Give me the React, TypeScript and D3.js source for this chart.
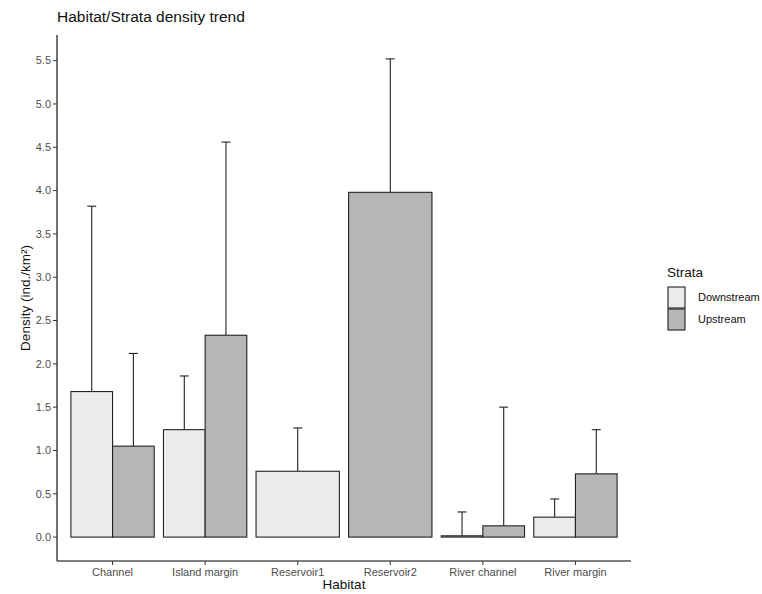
import React from 'react';
import * as d3 from 'd3';

const habitats = ['Channel', 'Island margin', 'Reservoir1', 'Reservoir2', 'River channel', 'River margin'];
const strata = ['Downstream', 'Upstream'];
// mean density and upper error bound per habitat (null = no data for that stratum)
const downstreamMean = [1.68, 1.24, 0.76, null, 0.015, 0.23];
const downstreamUpper = [3.82, 1.86, 1.26, null, 0.29, 0.44];
const upstreamMean = [1.05, 2.33, null, 3.98, 0.13, 0.73];
const upstreamUpper = [2.12, 4.56, null, 5.52, 1.5, 1.24];
const yTicks = [0, 0.5, 1, 1.5, 2, 2.5, 3, 3.5, 4, 4.5, 5, 5.5];

const fills: Record<string, string> = { Downstream: '#ececec', Upstream: '#b6b6b6' };
const font = '"Liberation Sans", Arial, sans-serif';

export default function App() {
  const width = 762;
  const height = 594;
  const panel = { left: 57, right: 631, top: 35, bottom: 561 };

  const rows = habitats.map((h, i) => {
    const items = [
      { s: 'Downstream', mean: downstreamMean[i], upper: downstreamUpper[i] },
      { s: 'Upstream', mean: upstreamMean[i], upper: upstreamUpper[i] },
    ].filter(d => d.mean !== null) as { s: string; mean: number; upper: number }[];
    return { h, items };
  });

  const x = d3.scaleBand<string>()
    .domain(habitats)
    .range([panel.left, panel.right])
    .paddingInner(0.1)
    .paddingOuter(0.15);

  const maxY = d3.max([...downstreamUpper, ...upstreamUpper].map(v => v ?? 0)) as number;
  const pad = maxY * 0.05;
  const y = d3.scaleLinear().domain([-pad, maxY + pad]).range([panel.bottom, panel.top]);

  const capW = 9;

  return (
    <svg width={width} height={height} style={{ position: 'absolute', left: 0, top: 0, background: '#fff' }}>
      <text x={57} y={22} fontFamily={font} fontSize={15.5} fill="#111">Habitat/Strata density trend</text>

      {rows.map(r => {
        const inner = d3.scaleBand<string>()
          .domain(r.items.map(d => d.s))
          .range([x(r.h)!, x(r.h)! + x.bandwidth()]);
        return (
          <g key={r.h}>
            {r.items.map(d => {
              const cx = inner(d.s)! + inner.bandwidth() / 2;
              return (
                <g key={d.s}>
                  <line x1={cx} x2={cx} y1={y(d.mean)} y2={y(d.upper)} stroke="#222" strokeWidth={1.1} />
                  <line x1={cx - capW / 2} x2={cx + capW / 2} y1={y(d.upper)} y2={y(d.upper)} stroke="#222" strokeWidth={1.1} />
                  <rect
                    x={inner(d.s)!}
                    y={y(d.mean)}
                    width={inner.bandwidth()}
                    height={y(0) - y(d.mean)}
                    fill={fills[d.s]}
                    stroke="#222"
                    strokeWidth={1.1}
                  />
                </g>
              );
            })}
          </g>
        );
      })}

      {/* axes */}
      <line x1={panel.left} x2={panel.left} y1={panel.top} y2={panel.bottom} stroke="#000" strokeWidth={1.1} />
      <line x1={panel.left} x2={panel.right} y1={panel.bottom} y2={panel.bottom} stroke="#000" strokeWidth={1.1} />
      {yTicks.map(t => (
        <g key={t}>
          <line x1={panel.left - 4} x2={panel.left} y1={y(t)} y2={y(t)} stroke="#333" />
          <text x={panel.left - 6} y={y(t)} dy="0.35em" textAnchor="end" fontFamily={font} fontSize={11} fill="#4d4d4d">
            {d3.format('.1f')(t)}
          </text>
        </g>
      ))}
      {habitats.map(h => {
        const cx = x(h)! + x.bandwidth() / 2;
        return (
          <g key={h}>
            <line x1={cx} x2={cx} y1={panel.bottom} y2={panel.bottom + 4} stroke="#333" />
            <text x={cx} y={panel.bottom + 15} textAnchor="middle" fontFamily={font} fontSize={11} fill="#4d4d4d">{h}</text>
          </g>
        );
      })}
      <text x={(panel.left + panel.right) / 2} y={589} textAnchor="middle" fontFamily={font} fontSize={13.5} fill="#111">Habitat</text>
      <text transform={`translate(30,${(panel.top + panel.bottom) / 2}) rotate(-90)`} textAnchor="middle" fontFamily={font} fontSize={13.5} fill="#111">
        Density (ind./km²)
      </text>

      {/* legend */}
      <text x={667} y={277} fontFamily={font} fontSize={13.5} fill="#111">Strata</text>
      {strata.map((s, i) => (
        <g key={s}>
          <rect x={668} y={287 + i * 22} width={17} height={21} fill={fills[s]} stroke="#222" strokeWidth={1.1} />
          <text x={698} y={297.5 + i * 22} dy="0.35em" fontFamily={font} fontSize={11} fill="#111">{s}</text>
        </g>
      ))}
    </svg>
  );
}
